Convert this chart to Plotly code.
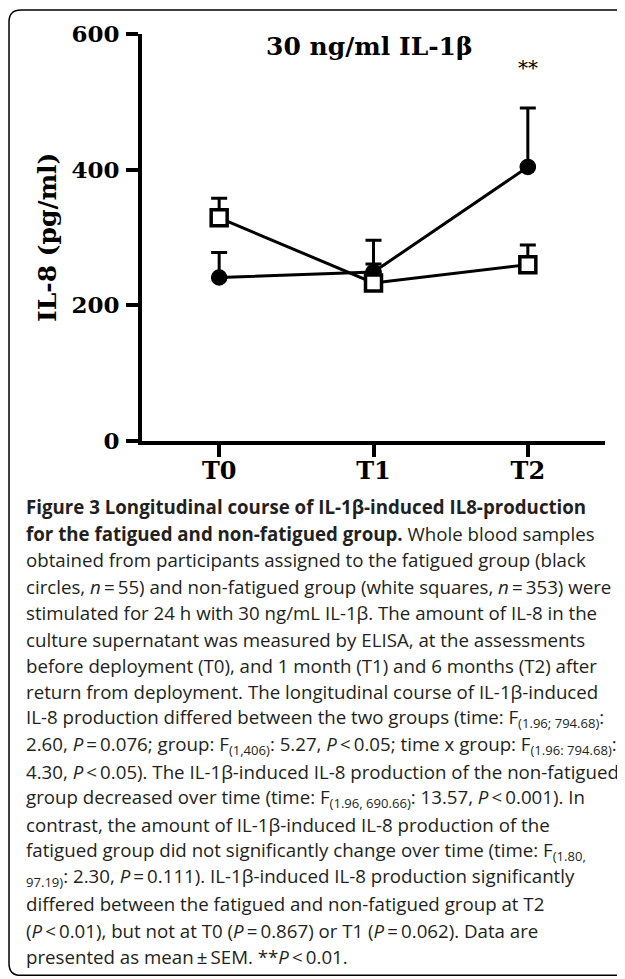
import plotly.graph_objects as go

# data (pg/ml), error bars are +SEM only
timepoints = ["T0", "T1", "T2"]
fatigued_mean = [241, 249, 404]
fatigued_sem = [37, 47, 87]
nonfatigued_mean = [329, 233, 260]
nonfatigued_sem = [29, 28, 29]
yticks = [0, 200, 400, 600]

caption_lines = [
    "<b>Figure 3 Longitudinal course of IL-1β-induced IL8-production</b>",
    "<b>for the fatigued and non-fatigued group.</b> Whole blood samples",
    "obtained from participants assigned to the fatigued group (black",
    "circles, <i>n</i>\u2009=\u200955) and non-fatigued group (white squares, <i>n</i>\u2009=\u2009353) were",
    "stimulated for 24 h with 30 ng/mL IL-1β. The amount of IL-8 in the",
    "culture supernatant was measured by ELISA, at the assessments",
    "before deployment (T0), and 1 month (T1) and 6 months (T2) after",
    "return from deployment. The longitudinal course of IL-1β-induced",
    "IL-8 production differed between the two groups (time: F<sub>(1.96; 794.68)</sub>:",
    "2.60, <i>P</i>\u2009=\u20090.076; group: F<sub>(1,406)</sub>: 5.27, <i>P</i>\u2009&lt;\u20090.05; time x group: F<sub>(1.96: 794.68)</sub>:",
    "4.30, <i>P</i>\u2009&lt;\u20090.05). The IL-1β-induced IL-8 production of the non-fatigued",
    "group decreased over time (time: F<sub>(1.96, 690.66)</sub>: 13.57, <i>P</i>\u2009&lt;\u20090.001). In",
    "contrast, the amount of IL-1β-induced IL-8 production of the",
    "fatigued group did not significantly change over time (time: F<sub>(1.80,</sub>",
    "<sub>97.19)</sub>: 2.30, <i>P</i>\u2009=\u20090.111). IL-1β-induced IL-8 production significantly",
    "differed between the fatigued and non-fatigued group at T2",
    "(<i>P</i>\u2009&lt;\u20090.01), but not at T0 (<i>P</i>\u2009=\u20090.867) or T1 (<i>P</i>\u2009=\u20090.062). Data are",
    "presented as mean\u2009±\u2009SEM. **<i>P</i>\u2009&lt;\u20090.01.",
]

# the page adds an 8px body margin, so the figure is a bit smaller than the window
OFF = 8
W, H = 625 - OFF, 979 - OFF
L, R, T, B = 134, 20, 24, 538

def px(x):
    # page x -> paper x
    return (x - OFF - L) / (W - L - R)

def py(y):
    # page y -> paper y
    return (H - B - (y - OFF)) / (H - T - B)

serif = dict(family="DejaVu Serif", color="black", weight="bold")
xs = list(range(len(timepoints)))

fig = go.Figure()

fig.add_trace(go.Scatter(
    x=xs, y=fatigued_mean, mode="lines+markers", name="fatigued",
    line=dict(color="black", width=3),
    marker=dict(symbol="circle", size=15, color="black", line=dict(color="black", width=1.5)),
    error_y=dict(type="data", symmetric=False, array=fatigued_sem, arrayminus=[0, 0, 0],
                 color="black", thickness=3, width=8)))

fig.add_trace(go.Scatter(
    x=xs, y=nonfatigued_mean, mode="lines+markers", name="non-fatigued",
    line=dict(color="black", width=3),
    marker=dict(symbol="square", size=16, color="white", line=dict(color="black", width=3.5)),
    error_y=dict(type="data", symmetric=False, array=nonfatigued_sem, arrayminus=[0, 0, 0],
                 color="black", thickness=3, width=8)))

fig.update_xaxes(range=[-0.5, 2.5], tickvals=xs, ticktext=timepoints,
                 showline=True, linewidth=4, linecolor="black",
                 ticks="outside", ticklen=12, tickwidth=4, tickcolor="black",
                 tickfont=dict(size=24, **serif), showgrid=False, zeroline=False,
                 ticklabelstandoff=-7)
fig.update_yaxes(range=[0, 600], tickvals=yticks,
                 showline=True, linewidth=4, linecolor="black",
                 ticks="outside", ticklen=12, tickwidth=4, tickcolor="black",
                 tickfont=dict(size=23, **serif), showgrid=False, zeroline=False,
                 ticklabelstandoff=2)

# title, y label and significance mark
fig.add_annotation(x=px(369), y=py(45), xref="paper", yref="paper", text="30 ng/ml IL-1β",
                   xanchor="center", yanchor="middle",
                   showarrow=False, font=dict(size=25, **serif))
fig.add_annotation(x=px(48), y=py(237), xref="paper", yref="paper", text="IL-8 (pg/ml)",
                   xanchor="center", yanchor="middle",
                   textangle=-90, showarrow=False, font=dict(size=25, **serif))
fig.add_annotation(x=2, y=py(66), xref="x", yref="paper", text="**",
                   xanchor="center", yanchor="middle",
                   showarrow=False, font=dict(size=20, family="DejaVu Serif", color="black"))

# caption
for i, line in enumerate(caption_lines):
    fig.add_annotation(x=px(24), y=py(507 + 26.6 * i), xref="paper", yref="paper",
                       text=line, showarrow=False, xanchor="left", yanchor="middle",
                       align="left", font=dict(family="Open Sans", size=18.7, color="#231F20"))

# rounded frame around the whole figure (right side runs off the page)
x0, y0, x1, y1, r = 9, 8, 640, 978, 12
frame = (f"M {px(x1)},{py(y0)} L {px(x0 + r)},{py(y0)} "
         f"Q {px(x0)},{py(y0)} {px(x0)},{py(y0 + r)} "
         f"L {px(x0)},{py(y1 - r)} Q {px(x0)},{py(y1)} {px(x0 + r)},{py(y1)} "
         f"L {px(x1)},{py(y1)}")
fig.add_shape(type="path", path=frame, xref="paper", yref="paper",
              line=dict(color="black", width=1.5))

fig.update_layout(width=W, height=H, margin=dict(l=L, r=R, t=T, b=B),
                  plot_bgcolor="white", paper_bgcolor="white", showlegend=False)

fig.write_html("out.html")
